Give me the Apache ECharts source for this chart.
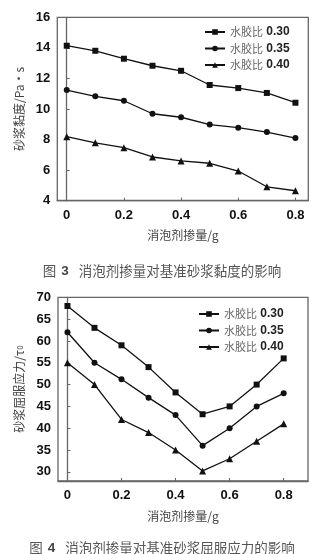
<!DOCTYPE html>
<html>
<head>
<meta charset="utf-8">
<script src="https://cdn.jsdelivr.net/npm/echarts@6/dist/echarts.min.js"></script>
<style>
html,body{margin:0;padding:0;background:#fff;}
#c{width:324px;height:554px;}
</style>
</head>
<body>
<div id="c"></div>
<script>
// ---- data ----
var dosage = [0, 0.1, 0.2, 0.3, 0.4, 0.5, 0.6, 0.7, 0.8];
var seriesNames = ['水胶比 0.30', '水胶比 0.35', '水胶比 0.40'];
// Fig 3: viscosity (Pa·s)
var visc030 = [14.14, 13.81, 13.29, 12.83, 12.5, 11.57, 11.37, 11.05, 10.41];
var visc035 = [11.24, 10.83, 10.54, 9.69, 9.46, 8.98, 8.78, 8.49, 8.1];
var visc040 = [8.19, 7.79, 7.47, 6.86, 6.6, 6.45, 5.94, 4.91, 4.65];
// Fig 4: yield stress (τ0)
var yield030 = [68, 63, 59, 54, 48.2, 43.2, 45, 50, 56];
var yield035 = [62, 55, 51.2, 47, 43, 36, 40, 45, 48];
var yield040 = [55, 50, 42, 39, 35, 30.2, 33, 37, 41];
// tick labels
var xTicks = [0, 0.2, 0.4, 0.6, 0.8];
var yTicks1 = [4, 6, 8, 10, 12, 14, 16];
var yTicks2 = [30, 35, 40, 45, 50, 55, 60, 65, 70];

function pairs(xs, ys){ return xs.map(function(x,i){ return [x, ys[i]]; }); }

var symbols = ['rect', 'circle', 'triangle'];
var symSizes = [6, 6, 7];

var numFont = {color:'#111', fontFamily:'Liberation Sans, Arial, sans-serif', fontSize:13, fontWeight:'bold'};
var cjk = '"Noto Sans CJK SC", sans-serif';

function mkSeries(name, data, idx, axisIdx){
  return {
    name: name, type:'line', xAxisIndex: axisIdx, yAxisIndex: axisIdx,
    data: pairs(dosage, data), symbol: symbols[idx], symbolSize: symSizes[idx],
    lineStyle:{color:'#111', width:1.3}, itemStyle:{color:'#111'},
    animation:false
  };
}

function xAxisCfg(gi, min, max){
  return {
    type:'value', gridIndex: gi, min:min, max:max,
    name:'消泡剂掺量/g', nameLocation:'middle', nameGap:29,
    nameTextStyle:{fontFamily:cjk, fontSize:12, color:'#444'},
    axisLine:{show:true, lineStyle:{color:'#666', width:1.3}},
    axisTick:{show:true, inside:true, length:3, customValues: xTicks, lineStyle:{color:'#666'}},
    axisLabel:Object.assign({margin:8, customValues: xTicks, formatter:function(v){return String(v);}}, numFont),
    splitLine:{show:false}
  };
}

function yAxisCfg(gi, min, max, ticks, nameRich, nameGap){
  return {
    type:'value', gridIndex: gi, min:min, max:max,
    name: nameRich.text, nameLocation:'middle', nameGap:nameGap, nameRotate:90,
    nameTextStyle:{fontFamily:cjk, fontSize:12, color:'#444', rich: nameRich.rich},
    axisLine:{show:true, lineStyle:{color:'#666', width:1.3}},
    axisTick:{show:true, inside:true, length:3, customValues: ticks, lineStyle:{color:'#666'}},
    axisLabel:Object.assign({margin:7, customValues: ticks}, numFont),
    splitLine:{show:false}
  };
}

function legendCfg(left, top){
  return {
    orient:'vertical', left:left, top:top, itemWidth:20, itemHeight:7, itemGap:4.5,
    data: seriesNames,
    formatter:function(n){ return '{a|水胶比} {b|' + n.split(' ')[1] + '}'; },
    textStyle:{
      rich:{
        a:{fontFamily:cjk, fontSize:11, color:'#666'},
        b:{fontFamily:'Liberation Sans, Arial, sans-serif', fontSize:12, color:'#222', fontWeight:'bold'}
      }
    }
  };
}

var capRich = {
  a:{fontFamily:cjk, fontSize:13.5, color:'#555', fontWeight:'normal'},
  b:{fontFamily:'Liberation Sans, Arial', fontSize:13.5, fontWeight:'bold', color:'#444'}
};

var chart = echarts.init(document.getElementById('c'), null, {renderer:'canvas'});
chart.setOption({
  animation:false,
  backgroundColor:'#fff',
  title:[
    {text:'{a|图} {b|3}  {a|消泡剂掺量对基准砂浆黏度的影响}', left:'center', top:257,
      textStyle:{fontWeight:'normal', rich:capRich}},
    {text:'{a|图} {b|4}  {a|消泡剂掺量对基准砂浆屈服应力的影响}', left:'center', top:534,
      textStyle:{fontWeight:'normal', rich:capRich}}
  ],
  legend:[legendCfg(199, 21), legendCfg(193, 303)],
  grid:[
    {left:57.3, top:17.3, width:251, height:183.4, show:true, borderColor:'#666', borderWidth:1.3, containLabel:false},
    {left:58, top:297.3, width:250, height:183.7, show:true, borderColor:'#666', borderWidth:1.3, containLabel:false}
  ],
  xAxis:[xAxisCfg(0, -0.033, 0.845), xAxisCfg(1, -0.035, 0.89)],
  yAxis:[
    yAxisCfg(0, 4, 16, yTicks1, {text:'砂浆黏度/Pa·s', rich:{}}, 28),
    yAxisCfg(1, 27.9, 70, yTicks2, {text:'砂浆屈服应力/τ{s|0}', rich:{s:{fontSize:8, color:'#444', fontFamily:cjk}}}, 28)
  ],
  series:[
    mkSeries(seriesNames[0], visc030, 0, 0),
    mkSeries(seriesNames[1], visc035, 1, 0),
    mkSeries(seriesNames[2], visc040, 2, 0),
    mkSeries(seriesNames[0], yield030, 0, 1),
    mkSeries(seriesNames[1], yield035, 1, 1),
    mkSeries(seriesNames[2], yield040, 2, 1)
  ]
});
</script>
</body>
</html>
